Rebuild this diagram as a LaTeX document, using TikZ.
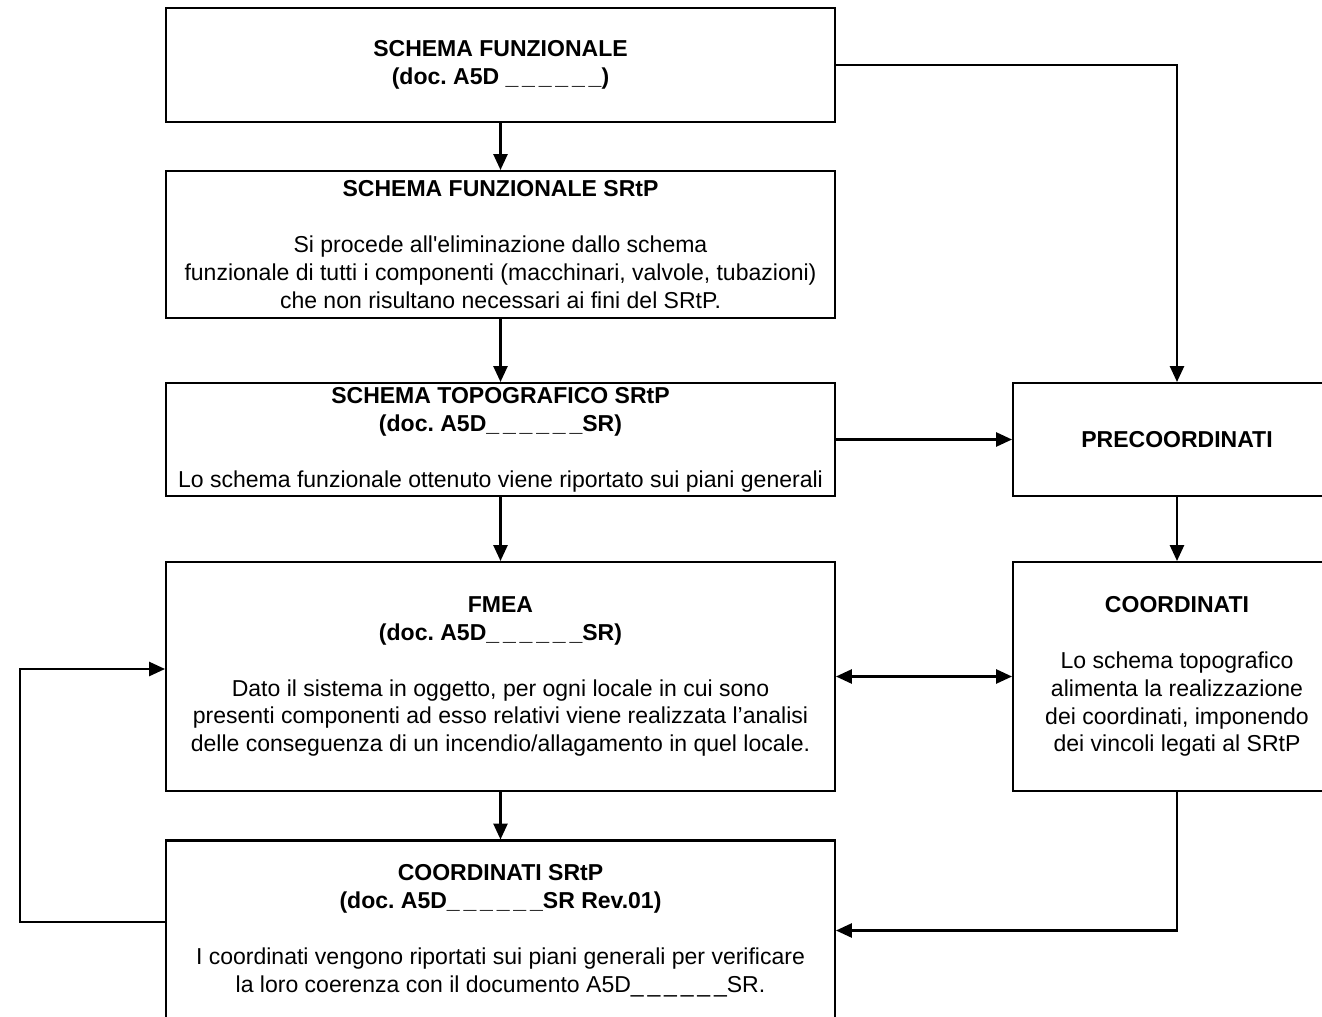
\documentclass[tikz,border=0pt]{standalone}
\usepackage{fontspec}
\setmainfont{Liberation Sans}
\usetikzlibrary{arrows.meta}

\begin{document}
\begin{tikzpicture}[x=0.02cm,y=-0.02cm,line width=1.2pt,
        box/.style={draw,rectangle,inner sep=0pt,minimum width=13.38cm,align=center,
            font=\fontsize{13.1}{15.9}\selectfont},
        sidebox/.style={box,minimum width=6.56cm},
        arr/.style={-{Triangle[length=9pt,width=8pt]}}]
    \useasboundingbox (0,0) rectangle (1322,1017);
    % colonna principale
    \node[box,minimum height=2.28cm] (sf) at (500.5,65) {\textbf{SCHEMA FUNZIONALE}\\\textbf{(doc.\ A5D \_\,\_\,\_\,\_\,\_\,\_)}};
    \node[box,minimum height=2.94cm] (sfs) at (500.5,244.5) {\textbf{SCHEMA FUNZIONALE SRtP}\\[15.9pt]
        Si procede all\textquotesingle eliminazione dallo schema\\
        funzionale di tutti i componenti (macchinari, valvole, tubazioni)\\
        che non risultano necessari ai fini del SRtP.};
    \node[box,minimum height=2.26cm] (topo) at (500.5,439.5) {\textbf{SCHEMA TOPOGRAFICO SRtP}\\\textbf{(doc.\ A5D\_\,\_\,\_\,\_\,\_\,\_SR)}\\[15.9pt]
        Lo schema funzionale ottenuto viene riportato sui piani generali};
    \node[box,minimum height=4.58cm] (fmea) at (500.5,676.5) {\textbf{FMEA}\\\textbf{(doc.\ A5D\_\,\_\,\_\,\_\,\_\,\_SR)}\\[15.9pt]
        Dato il sistema in oggetto, per ogni locale in cui sono\\
        presenti componenti ad esso relativi viene realizzata l'analisi\\
        delle conseguenza di un incendio/allagamento in quel locale.};
    \node[box,minimum height=3.6cm] (srtp) at (500.5,930.5) {\textbf{COORDINATI SRtP}\\\textbf{(doc.\ A5D\_\,\_\,\_\,\_\,\_\,\_SR Rev.01)}\\[15.9pt]
        I coordinati vengono riportati sui piani generali per verificare\\
        la loro coerenza con il documento A5D\_\,\_\,\_\,\_\,\_\,\_SR.};
    % colonna destra
    \node[sidebox,minimum height=2.26cm] (pre) at (1177,439.5) {\textbf{PRECOORDINATI}};
    \node[sidebox,minimum height=4.58cm] (coord) at (1177,676.5) {\textbf{COORDINATI}\\[15.9pt]
        Lo schema topografico\\
        alimenta la realizzazione\\
        dei coordinati, imponendo\\
        dei vincoli legati al SRtP};
    % connettori
    \draw[arr] (sf) -- (sfs);
    \draw[arr] (sfs) -- (topo);
    \draw[arr] (topo) -- (fmea);
    \draw[arr] (fmea) -- (srtp);
    \draw[arr] (sf.east) -| (pre.north);
    \draw[arr] (topo.east) -- (pre.west);
    \draw[arr] (pre) -- (coord);
    \draw[{Triangle[length=9pt,width=8pt]}-{Triangle[length=9pt,width=8pt]}] (fmea.east) -- (coord.west);
    \draw[arr] (coord.south) |- (srtp.east);
    \coordinate (back1) at (20,922);
    \coordinate (back2) at (20,669);
    \draw[arr] (srtp.west |- back1) -- (back1) -- (back2) -- (fmea.west |- back2);
\end{tikzpicture}
\end{document}
